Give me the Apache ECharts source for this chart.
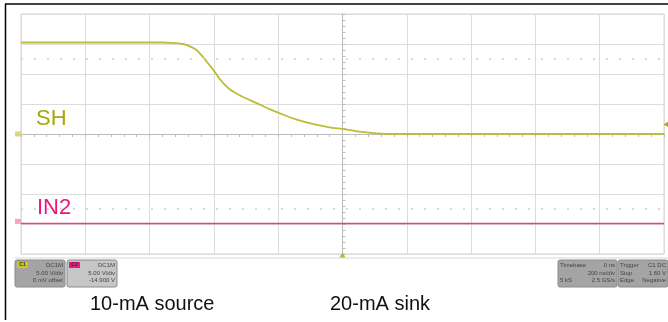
<!DOCTYPE html>
<html>
<head>
<meta charset="utf-8">
<script src="https://cdn.jsdelivr.net/npm/echarts@6/dist/echarts.min.js"></script>
<style>
  html, body { margin: 0; padding: 0; background: #fff; }
  #chart { width: 668px; height: 322px; }
</style>
</head>
<body>
<div id="chart"></div>
<script>
// time in ns (200 ns/div, trigger at 0), amplitude in screen divisions (5 V/div)
const shTime = [-1000, -560, -520, -496, -476, -454, -435, -414, -398, -383, -368, -352, -335, -311, -267, -227, -174, -140, -103, -40, 0, 53, 106, 156, 1000];
const shDiv  = [3.05, 3.05, 3.03, 3.00, 2.93, 2.80, 2.58, 2.30, 2.08, 1.85, 1.66, 1.50, 1.38, 1.24, 1.03, 0.83, 0.60, 0.47, 0.36, 0.22, 0.17, 0.08, 0.02, 0, 0];
const in2Time = [-1000, -500, 0, 500, 1000];
const in2Div  = [-2.98, -2.98, -2.98, -2.98, -2.98];
const trigLevel = 0.32; // 1.60 V on C1
const dottedRows = [2.5, -2.5];

const chart = echarts.init(document.getElementById('chart'));
const font = 'Liberation Sans, Arial, sans-serif';
const zip = (xs, ys) => xs.map((x, i) => [x, ys[i]]);

function box(x, y, w, h, fill, tag, tagColor, lines) {
  const els = [
    { type: 'rect', shape: { x: x, y: y, width: w, height: h, r: 2 }, style: { fill: fill, stroke: '#8a8a8a', lineWidth: 1 } }
  ];
  if (tag) {
    els.push({ type: 'rect', shape: { x: x + 2, y: y + 2, width: 11, height: 6 }, style: { fill: tagColor } });
    els.push({ type: 'text', x: x + 7.5, y: y + 5, style: { text: tag, font: 'bold 5px ' + font, fill: '#333', align: 'center', verticalAlign: 'middle' } });
  }
  lines.forEach(l => {
    els.push({ type: 'text', x: x + l[0], y: y + l[1], style: { text: l[2], font: '6px ' + font, fill: '#444', align: l[3] || 'right', verticalAlign: 'middle' } });
  });
  return els;
}

const graphics = [].concat(
  [
    { type: 'line', shape: { x1: 5, y1: 4, x2: 668, y2: 4 }, style: { stroke: '#000', lineWidth: 1.5 } },
    { type: 'line', shape: { x1: 5.5, y1: 4, x2: 5.5, y2: 320 }, style: { stroke: '#000', lineWidth: 1.5 } },
    { type: 'line', shape: { x1: 15, y1: 258, x2: 668, y2: 258 }, style: { stroke: '#d8d8d8', lineWidth: 1 } },
    { type: 'text', x: 36, y: 119, style: { text: 'SH', font: '22px ' + font, fill: '#a8a80c', verticalAlign: 'middle' } },
    { type: 'text', x: 37, y: 208, style: { text: 'IN2', font: '22px ' + font, fill: '#e8197c', verticalAlign: 'middle' } },
    { type: 'text', x: 90, y: 304, style: { text: '10-mA source', font: '20px ' + font, fill: '#111', verticalAlign: 'middle' } },
    { type: 'text', x: 330, y: 304, style: { text: '20-mA sink', font: '20px ' + font, fill: '#111', verticalAlign: 'middle' } }
  ],
  box(15, 260, 50, 27, '#a4a4a4', 'C1', '#c8c81e', [[48, 5, 'DC1M'], [48, 13, '5.00 V/div'], [48, 20, '0 mV offset']]),
  box(67, 260, 50, 27, '#c6c6c6', 'C2', '#e8197c', [[48, 5, 'DC1M'], [48, 13, '5.00 V/div'], [48, 20, '-14.900 V']]),
  box(558, 260, 59, 27, '#a4a4a4', null, null, [[2, 5, 'Timebase', 'left'], [57, 5, '0 ns'], [57, 13, '200 ns/div'], [2, 20, '5 kS', 'left'], [57, 20, '2.5 GS/s']]),
  box(618, 260, 50, 27, '#a4a4a4', null, null, [[2, 5, 'Trigger', 'left'], [48, 5, 'C1 DC'], [2, 13, 'Stop', 'left'], [48, 13, '1.60 V'], [2, 20, 'Edge', 'left'], [48, 20, 'Negative']])
);

const option = {
  animation: false,
  backgroundColor: '#fff',
  grid: { left: 21, right: 4, top: 14, bottom: 68, show: true, borderColor: '#d4d4d4', borderWidth: 1 },
  xAxis: {
    type: 'value', min: -1000, max: 1000, interval: 200,
    axisLine: { onZero: true, lineStyle: { color: '#bcbcbc', width: 1 } },
    axisTick: { show: true, length: 3, lineStyle: { color: '#bcbcbc' } },
    minorTick: { show: true, splitNumber: 5, length: 3, lineStyle: { color: '#bcbcbc' } },
    axisLabel: { show: false },
    splitLine: { show: true, lineStyle: { color: '#dcdcdc', width: 1 } }
  },
  yAxis: {
    type: 'value', min: -4, max: 4, interval: 1,
    axisLine: { onZero: true, lineStyle: { color: '#bcbcbc', width: 1 } },
    axisTick: { show: true, length: 3, inside: true, lineStyle: { color: '#bcbcbc' } },
    minorTick: { show: true, splitNumber: 5, length: 3, lineStyle: { color: '#bcbcbc' } },
    axisLabel: { show: false },
    splitLine: { show: true, lineStyle: { color: '#dcdcdc', width: 1 } }
  },
  series: [
    {
      name: 'IN2', type: 'line', data: zip(in2Time, in2Div), symbol: 'none',
      lineStyle: { color: '#e4428a', width: 1.5 },
      markLine: {
        silent: true, symbol: 'none', label: { show: false },
        lineStyle: { color: '#d0d0d0', type: [2, 11], width: 1.5 },
        data: dottedRows.map(v => ({ yAxis: v }))
      },
      markPoint: {
        silent: true, symbol: 'rect', symbolSize: [6, 5], label: { show: false },
        itemStyle: { color: '#f3a3c4' },
        data: [{ coord: [-1000, in2Div[0]], symbolOffset: [-3, -2] }]
      }
    },
    {
      name: 'SH', type: 'line', data: zip(shTime, shDiv), symbol: 'none', smooth: 0.3,
      lineStyle: { color: '#bcbc3a', width: 1.8 },
      markPoint: {
        silent: true, label: { show: false },
        data: [
          { coord: [-1000, 0], symbol: 'rect', symbolSize: [6, 5], symbolOffset: [-3, 0], itemStyle: { color: '#d8d880' } },
          { coord: [1000, trigLevel], symbol: 'triangle', symbolRotate: 90, symbolSize: [6, 5], symbolOffset: [2, 0], itemStyle: { color: '#a8a830' } },
          { coord: [0, -4], symbol: 'triangle', symbolSize: [6, 5], symbolOffset: [0, 1], itemStyle: { color: '#9cc23a' } }
        ]
      }
    }
  ],
  graphic: graphics
};

chart.setOption(option);
</script>
</body>
</html>
